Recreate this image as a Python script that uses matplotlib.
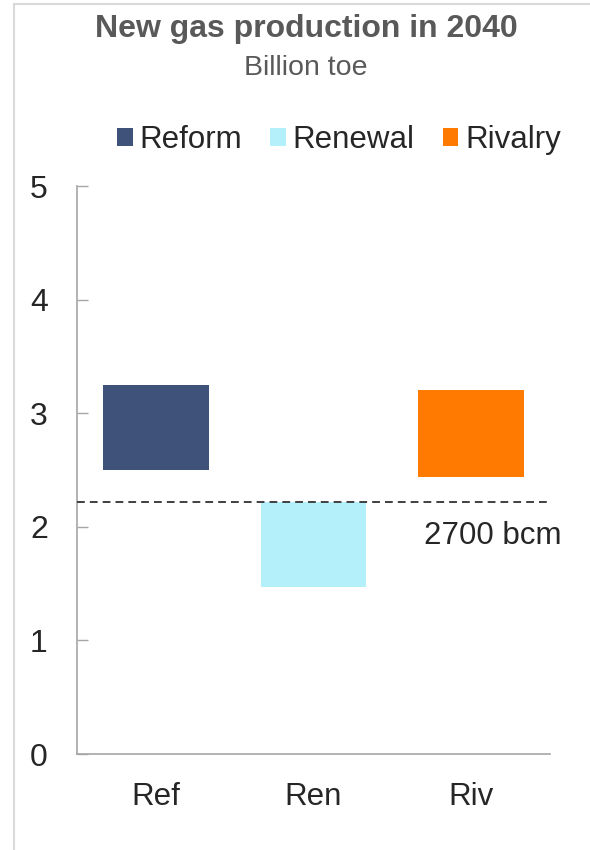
import matplotlib
matplotlib.use("Agg")
import matplotlib.pyplot as plt
from matplotlib.patches import Rectangle, Patch

plt.rcParams['font.family'] = ['Liberation Sans', 'DejaVu Sans']

categories = ["Ref", "Ren", "Riv"]
series_names = ["Reform", "Renewal", "Rivalry"]
bar_bottoms = [2.50, 1.47, 2.44]
bar_tops = [3.25, 2.22, 3.20]
reference_level = 2.22
reference_label = "2700 bcm"
y_ticks = [0, 1, 2, 3, 4, 5]
colors = ["#3F527A", "#B3F0FA", "#FF7A00"]

fig = plt.figure(figsize=(5.9, 8.5), dpi=100)
fig.patches.append(Rectangle((14/590, -0.1), 1.2, 1.1 - 4/850, transform=fig.transFigure,
                             fill=False, edgecolor="#D9D9D9", linewidth=1.5, zorder=0))

ax = fig.add_axes([77/590, 1-754/850, (550-77)/590, (754-186)/850])
x = list(range(len(categories)))
heights = [t - b for t, b in zip(bar_tops, bar_bottoms)]
ax.bar(x, heights, bottom=bar_bottoms, width=0.67, color=colors, zorder=2)
ax.axhline(reference_level, color="#404040", linestyle=(0, (4, 2.6)), linewidth=1.4, zorder=3)
ax.text(1.70, 1.92, reference_label, fontsize=22.5, color="#262626", ha="left", va="center")

ax.set_xlim(-0.5, 2.5)
ax.set_ylim(0, 5)
ax.set_yticks(y_ticks)
ax.set_xticks(x)
ax.set_xticklabels(categories)
ax.tick_params(axis="y", direction="in", length=8, width=1, color="#A6A6A6",
               labelsize=23, labelcolor="#262626", pad=21)
ax.tick_params(axis="x", length=0, labelsize=22.5, labelcolor="#262626", pad=20)
for s in ["top", "right"]:
    ax.spines[s].set_visible(False)
for s in ["left", "bottom"]:
    ax.spines[s].set_color("#A6A6A6")
    ax.spines[s].set_linewidth(1.2)

fig.text(306/590, 1-29/850, "New gas production in 2040", fontsize=23, fontweight="bold",
         color="#595959", ha="center", va="center")
fig.text(306/590, 1-68/850, "Billion toe", fontsize=20.5, color="#595959", ha="center", va="center")

handles = [Patch(facecolor=c, edgecolor="none") for c in colors]
fig.legend(handles, series_names, loc="center", bbox_to_anchor=(339/590, 1-140/850), ncol=3,
           frameon=False, fontsize=22.5, handlelength=0.5, handleheight=0.5, handletextpad=0.22,
           columnspacing=0.9, labelcolor="#262626", borderpad=0, borderaxespad=0)

fig.savefig("out.png", dpi=100)
